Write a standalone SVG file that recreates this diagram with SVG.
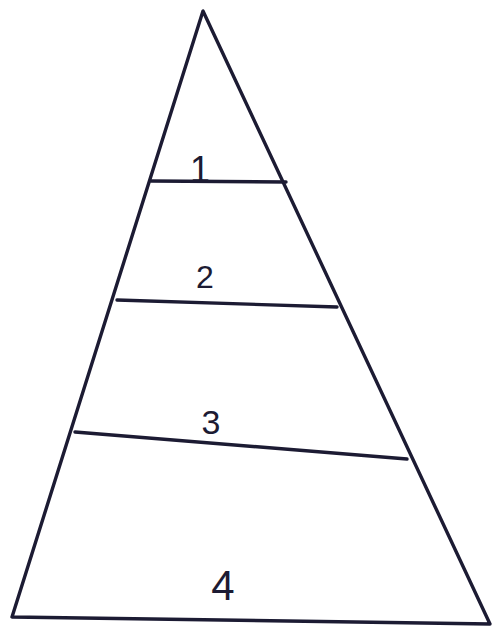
<svg xmlns="http://www.w3.org/2000/svg" width="495" height="634" viewBox="0 0 495 634">
<style>
.l{stroke:#1c1b33;stroke-width:3.4;fill:none;stroke-linecap:round;stroke-linejoin:round}
.t{font-family:"Liberation Sans",Arial,sans-serif;fill:#1c1b33;text-anchor:middle}
</style>
<rect width="495" height="634" fill="#fff"/>
<g id="pyramid">
<path class="l" d="M203 11 L12 617 L490 624 Z"/>
</g>
<g id="connectors">
<line class="l" x1="151" y1="181" x2="286" y2="182"/>
<line class="l" x1="117" y1="300" x2="337" y2="307"/>
<line class="l" x1="75" y1="432" x2="407" y2="459"/>
</g>
<g id="level1"><text class="t" x="200" y="182" font-size="36">1</text></g>
<g id="level2"><text class="t" x="205" y="288" font-size="32">2</text></g>
<g id="level3"><text class="t" x="211" y="434" font-size="34">3</text></g>
<g id="level4"><text class="t" x="223" y="600" font-size="42">4</text></g>
</svg>
